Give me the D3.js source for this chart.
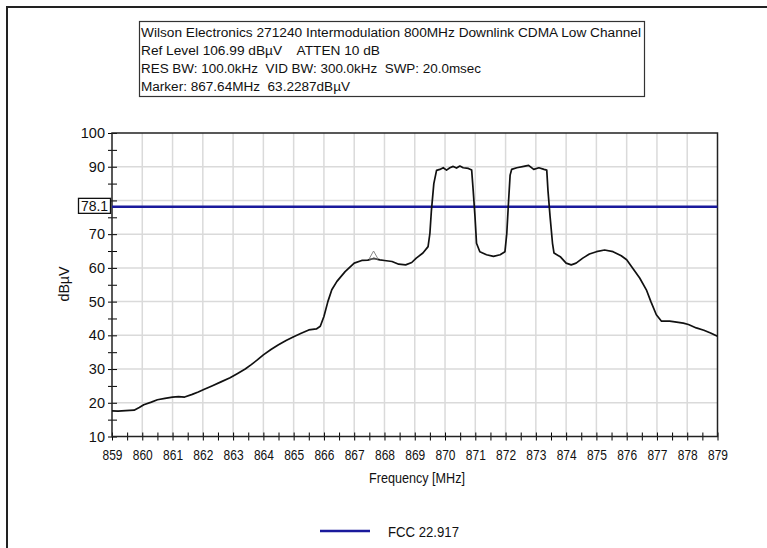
<!DOCTYPE html>
<html lang="en">
<head>
  <meta charset="UTF-8" />
  <title>Intermodulation 800MHz Downlink CDMA Low Channel</title>
  <script src="https://d3js.org/d3.v7.min.js"></script>
  <style>
    body {
      margin: 0;
      background: #fff;
      overflow: hidden;
    }

    svg {
      display: block;
      font-family: "Liberation Sans", Arial, sans-serif;
    }

    .grid line {
      stroke: #dadada;
      stroke-width: 1.5px;
    }

    .axis path {
      display: none;
    }

    .axis line {
      stroke: #000;
    }
  </style>
</head>
<body>
  <svg width="767" height="548"></svg>
  <script>
    // header box text
    const headerLines = [
      "Wilson Electronics 271240 Intermodulation 800MHz Downlink CDMA Low Channel",
      "Ref Level 106.99 dB\u00b5V    ATTEN 10 dB",
      "RES BW: 100.0kHz  VID BW: 300.0kHz  SWP: 20.0msec",
      "Marker: 867.64MHz  63.2287dB\u00b5V"
    ];
    const headerWidths = [500, 239, 340, 209];

    // spectrum trace
    const freq = [
      859.00, 859.20, 859.45, 859.73, 859.90, 860.05, 860.30, 860.50, 860.75, 861.00,
      861.20, 861.40, 861.65, 861.85, 862.05, 862.30, 862.60, 862.90, 863.15, 863.40,
      863.60, 863.80, 864.00, 864.25, 864.50, 864.75, 865.00, 865.25, 865.50, 865.75,
      865.88, 866.00, 866.13, 866.26, 866.43, 866.70, 867.00, 867.25, 867.45, 867.64,
      867.85, 868.00, 868.25, 868.47, 868.70, 868.90, 869.05, 869.27, 869.44, 869.50,
      869.55, 869.63, 869.72, 869.83, 869.94, 870.05, 870.16, 870.27, 870.38, 870.49,
      870.60, 870.77, 870.88, 870.93, 870.99, 871.04, 871.15, 871.37, 871.60, 871.82,
      871.98, 872.04, 872.10, 872.15, 872.20, 872.37, 872.60, 872.76, 872.93, 873.10,
      873.27, 873.36, 873.40, 873.47, 873.55, 873.60, 873.82, 874.00, 874.17, 874.33,
      874.55, 874.77, 875.00, 875.27, 875.55, 875.82, 876.00, 876.20, 876.43, 876.65,
      876.80, 876.98, 877.15, 877.42, 877.65, 877.87, 878.04, 878.30, 878.55, 878.77,
      879.00
    ];
    const level = [
      17.6, 17.5, 17.7, 17.8, 18.6, 19.4, 20.2, 20.9, 21.3, 21.7,
      21.8, 21.7, 22.5, 23.2, 24.0, 25.0, 26.2, 27.4, 28.7, 30.0,
      31.3, 32.7, 34.2, 35.8, 37.2, 38.5, 39.6, 40.6, 41.6, 41.9,
      42.7, 45.6, 50.0, 53.5, 56.0, 58.9, 61.4, 62.2, 62.3, 62.8,
      62.4, 62.2, 61.9, 61.1, 60.9, 61.6, 62.9, 64.4, 66.3, 70.2,
      77.0, 85.0, 88.9, 89.2, 89.7, 89.0, 89.7, 90.1, 89.6, 90.2,
      89.7, 89.5, 89.0, 83.0, 75.2, 67.3, 64.8, 63.9, 63.4, 63.9,
      64.8, 70.2, 80.0, 87.5, 89.2, 89.7, 90.1, 90.4, 89.2, 89.7,
      89.2, 89.0, 83.0, 75.2, 67.3, 64.4, 63.2, 61.4, 60.9, 61.4,
      62.9, 64.1, 64.8, 65.3, 64.8, 63.6, 62.4, 59.9, 57.0, 53.5,
      50.0, 46.1, 44.2, 44.2, 43.9, 43.6, 43.2, 42.2, 41.5, 40.7,
      39.7
    ];

    const limitValue = 78.1;
    const limitName = "FCC 22.917";
    const marker = { f: 867.64, v: 63.2287 };

    const xTicks = d3.range(859, 879.01, 0.5);
    const yTicks = d3.range(10, 100.01, 5);

    const svg = d3.select("svg");

    const x = d3.scaleLinear().domain([859, 879]).range([112, 717.5]);
    const y = d3.scaleLinear().domain([10, 100]).range([436.5, 133]);

    // window frame
    svg.append("path")
      .attr("d", "M7,548V7H767")
      .attr("fill", "none")
      .attr("stroke", "#222")
      .attr("stroke-width", 2);

    // header box
    svg.append("rect")
      .attr("x", 139.5).attr("y", 21.5)
      .attr("width", 505).attr("height", 75)
      .attr("fill", "#fff")
      .attr("stroke", "#333")
      .attr("stroke-width", 1.2);

    svg.append("g")
      .selectAll("text")
      .data(headerLines)
      .join("text")
      .attr("x", 141)
      .attr("y", (d, i) => 36.5 + i * 18.3)
      .attr("font-size", 12)
      .attr("textLength", (d, i) => headerWidths[i])
      .attr("lengthAdjust", "spacingAndGlyphs")
      .style("white-space", "pre")
      .attr("fill", "#111")
      .text(d => d);

    // grid
    const grid = svg.append("g").attr("class", "grid");
    grid.selectAll(".gx")
      .data(d3.range(860, 879))
      .join("line")
      .attr("x1", d => x(d)).attr("x2", d => x(d))
      .attr("y1", y(100)).attr("y2", y(10));
    grid.selectAll(".gy")
      .data(d3.range(20, 100, 10))
      .join("line")
      .attr("x1", x(859)).attr("x2", x(879))
      .attr("y1", d => y(d)).attr("y2", d => y(d));

    // axes with ticks crossing the line
    const xAxis = svg.append("g")
      .attr("class", "axis")
      .attr("transform", `translate(0,${y(10)})`)
      .call(d3.axisBottom(x)
        .tickValues(xTicks)
        .tickSize(4)
        .tickPadding(8)
        .tickFormat(d => Number.isInteger(d) ? d : ""));
    xAxis.selectAll(".tick line").attr("y1", -4);
    xAxis.selectAll("text")
      .attr("font-size", 15.5)
      .attr("fill", "#111")
      .filter(d => Number.isInteger(d))
      .attr("textLength", 20)
      .attr("lengthAdjust", "spacingAndGlyphs");

    // the 80 label sits under the limit value box, so it is left out
    const yAxis = svg.append("g")
      .attr("class", "axis")
      .attr("transform", `translate(${x(859)},0)`)
      .call(d3.axisLeft(y)
        .tickValues(yTicks)
        .tickSize(4)
        .tickPadding(3)
        .tickFormat(d => d % 10 === 0 && d !== 80 ? d : ""));
    yAxis.selectAll(".tick line").attr("x1", 5);
    yAxis.selectAll("text").attr("font-size", 14.5).attr("fill", "#111");

    // plot frame
    svg.append("rect")
      .attr("x", x(859)).attr("y", y(100))
      .attr("width", x(879) - x(859)).attr("height", y(10) - y(100))
      .attr("fill", "none")
      .attr("stroke", "#222")
      .attr("stroke-width", 1.5);

    // limit line
    svg.append("line")
      .attr("x1", x(859)).attr("x2", x(879))
      .attr("y1", y(limitValue)).attr("y2", y(limitValue))
      .attr("stroke", "#1a1a9c")
      .attr("stroke-width", 2.5);

    // trace
    const line = d3.line()
      .x((d, i) => x(freq[i]))
      .y(d => y(d));

    svg.append("path")
      .datum(level)
      .attr("d", line)
      .attr("fill", "none")
      .attr("stroke", "#111")
      .attr("stroke-width", 1.7)
      .attr("stroke-linejoin", "round");

    // marker triangle
    const mx = x(marker.f), my = y(marker.v);
    svg.append("path")
      .attr("d", `M${mx},${my - 6}L${mx + 4.5},${my + 2}L${mx - 4.5},${my + 2}Z`)
      .attr("fill", "none")
      .attr("stroke", "#888")
      .attr("stroke-width", 1);

    // limit value label box
    svg.append("rect")
      .attr("x", 78.5).attr("y", y(limitValue) - 8.5)
      .attr("width", 32).attr("height", 15)
      .attr("fill", "#fff")
      .attr("stroke", "#111")
      .attr("stroke-width", 1.3);
    svg.append("text")
      .attr("x", 94.5).attr("y", y(limitValue) + 4)
      .attr("text-anchor", "middle")
      .attr("font-size", 14)
      .attr("fill", "#111")
      .text(limitValue);

    // axis titles
    svg.append("text")
      .attr("x", 417).attr("y", 483)
      .attr("text-anchor", "middle")
      .attr("font-size", 15.5)
      .attr("textLength", 96)
      .attr("lengthAdjust", "spacingAndGlyphs")
      .attr("fill", "#111")
      .text("Frequency [MHz]");

    svg.append("text")
      .attr("transform", "translate(69,284) rotate(-90)")
      .attr("text-anchor", "middle")
      .attr("font-size", 15)
      .attr("textLength", 35)
      .attr("lengthAdjust", "spacingAndGlyphs")
      .attr("fill", "#111")
      .text("dB\u00b5V");

    // legend
    svg.append("line")
      .attr("x1", 320).attr("x2", 370)
      .attr("y1", 531).attr("y2", 531)
      .attr("stroke", "#1a1a9c")
      .attr("stroke-width", 2.5);
    svg.append("text")
      .attr("x", 388).attr("y", 537)
      .attr("font-size", 15.5)
      .attr("textLength", 71)
      .attr("lengthAdjust", "spacingAndGlyphs")
      .attr("fill", "#111")
      .text(limitName);
  </script>
</body>
</html>
